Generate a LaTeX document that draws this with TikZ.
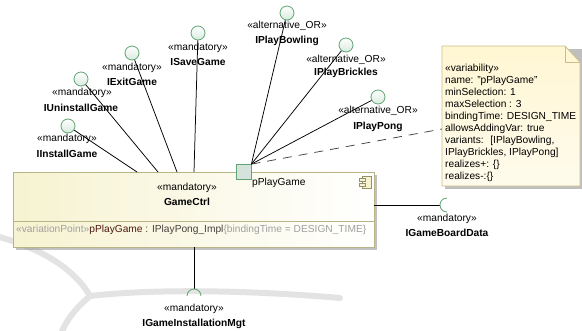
\documentclass[tikz,border=0pt]{standalone}
\usepackage{fontspec}
\setmainfont{Liberation Sans}
\usetikzlibrary{calc}
\usetikzlibrary{shadows}

\definecolor{boxyellow}{RGB}{246,243,208}
\definecolor{boxedge}{RGB}{184,180,136}
\definecolor{noteyellow}{RGB}{255,246,210}
\definecolor{noteedge}{RGB}{204,188,140}
\definecolor{ballgreen}{RGB}{96,164,116}
\definecolor{ballfill}{RGB}{216,234,222}
\definecolor{portfill}{RGB}{214,226,220}
\definecolor{attrgrey}{RGB}{160,160,160}
\definecolor{attrred}{RGB}{80,24,16}
\definecolor{attrdark}{RGB}{70,64,60}

\tikzset{
  ball/.style={circle,draw=ballgreen,line width=0.8pt,inner sep=0pt,minimum size=14pt,top color=white,bottom color=ballfill},
  stereo/.style={font=\fontsize{10.2}{12}\selectfont,inner sep=0pt},
  iname/.style={font=\fontsize{10.2}{12}\selectfont\bfseries,inner sep=0pt},
  wire/.style={line width=0.75pt},
  socket/.style={draw=ballgreen,line width=0.8pt},
  wm/.style={line width=6pt,draw=black!11,line cap=round},
}

\begin{document}
\begin{tikzpicture}[x=1pt,y=-1pt]%GameCtrl
\useasboundingbox (0,0) rectangle (582,330);
% watermark
\draw[wm] (-4,236) .. controls (40,248) and (74,268) .. (90,296);
\draw[wm] (90,296) .. controls (160,288) and (260,291) .. (340,298);
\draw[wm] (90,296) .. controls (76,308) and (66,320) .. (61,334);

% component
\node[draw=boxedge,line width=0.8pt,minimum width=361pt,minimum height=75pt,inner sep=0pt,
  left color=boxyellow,right color=white,
  drop shadow={shadow xshift=3pt,shadow yshift=-3pt,fill=black!40,opacity=0.6}] (ctrl) at (193.5,209.5) {};
\draw[boxedge,line width=0.8pt] (13,221) -- (374,221);
\node[stereo] (ctrlst) at (187,188) {«mandatory»};
\node[iname] (ctrlnm) at (187,202) {GameCtrl};
\node[stereo,anchor=west] (attr) at (16,230) {\textcolor{attrgrey}{«variationPoint»}\textcolor{attrred}{pPlayGame}\textcolor{attrdark}{\ : IPlayPong\_Impl}\textcolor{attrgrey}{\{bindingTime = DESIGN\_TIME\}}};
% component icon
\draw[boxedge!80!black,line width=0.7pt,fill=boxyellow] (362,176) rectangle (371,188);
\draw[boxedge!80!black,line width=0.7pt,fill=boxyellow] (359,178) rectangle (365,181);
\draw[boxedge!80!black,line width=0.7pt,fill=boxyellow] (359,183) rectangle (365,186);

% port
\node[draw=ballgreen,line width=0.8pt,fill=portfill,minimum size=15pt,inner sep=0pt] (port) at (243.5,172) {};
\node[stereo,anchor=west] (portlbl) at (252,183) {pPlayGame};

% provided interfaces
\node[ball] (iinst) at (68,126) {};
\node[stereo] (iinstst) at (67,139) {«mandatory»};
\node[iname] (iinstnm) at (67,154) {IInstallGame};
\node[ball] (iuninst) at (81,79) {};
\node[stereo] (iuninstst) at (82,93) {«mandatory»};
\node[iname] (iuninstnm) at (81,108) {IUninstallGame};
\node[ball] (iexit) at (132,53) {};
\node[stereo] (iexitst) at (132,68) {«mandatory»};
\node[iname] (iexitnm) at (132,82) {IExitGame};
\node[ball] (isave) at (198,33) {};
\node[stereo] (isavest) at (198,48) {«mandatory»};
\node[iname] (isavenm) at (198,62) {ISaveGame};
\node[ball] (ibowl) at (287,13) {};
\node[stereo] (ibowlst) at (287,26) {«alternative\_OR»};
\node[iname] (ibowlnm) at (287,41) {IPlayBowling};
\node[ball] (ibrick) at (346,45) {};
\node[stereo] (ibrickst) at (346,60) {«alternative\_OR»};
\node[iname] (ibricknm) at (346,73) {IPlayBrickles};
\node[ball] (ipong) at (378,97) {};
\node[stereo] (ipongst) at (378,111) {«alternative\_OR»};
\node[iname] (ipongnm) at (378,127) {IPlayPong};

\coordinate (cinst) at (137,172);
\coordinate (cuninst) at (158,172);
\coordinate (cexit) at (177,172);
\coordinate (csave) at (194,172);
\draw[wire] (iinst) -- (cinst);
\draw[wire] (iuninst) -- (cuninst);
\draw[wire] (iexit) -- (cexit);
\draw[wire] (isave) -- (csave);
\draw[wire] (ibowl) -- (port.north east);
\draw[wire] (ibrick) -- (port.north east);
\draw[wire] (ipong) -- (port.north east);

% required interfaces
\coordinate (cbot) at (194,247);
\coordinate (sockbot) at (194,289);
\draw[wire] (cbot) -- (sockbot);
\draw[socket] (187,296) .. controls (187,292.1) and (190.1,289) .. (194,289) .. controls (197.9,289) and (201,292.1) .. (201,296);
\node[stereo] (ibotst) at (194,309) {«mandatory»};
\node[iname] (ibotnm) at (194,324) {IGameInstallationMgt};
\coordinate (cright) at (374,205);
\coordinate (sockright) at (440,205);
\draw[wire] (cright) -- (sockright);
\draw[socket] (447,198) .. controls (443.1,198) and (440,201.1) .. (440,205) .. controls (440,208.9) and (443.1,212) .. (447,212);
\node[stereo] (irightst) at (447,219) {«mandatory»};
\node[iname] (irightnm) at (447,233) {IGameBoardData};

% note
\fill[black!25] (445,49) -- (583,49) -- (583,189) -- (445,189) -- cycle;
\draw[noteedge,line width=0.8pt,top color=noteyellow,bottom color=noteyellow!40] (442,46) -- (565,46) -- (580,62) -- (580,186) -- (442,186) -- cycle;
\draw[noteedge,line width=0.6pt] (565,46) -- (565,62) -- (580,62);
\node[stereo,anchor=north west,align=left] (note) at (445,64) {«variability»\\name: "pPlayGame"\\minSelection: 1\\maxSelection : 3\\bindingTime: DESIGN\_TIME\\allowsAddingVar: true\\variants:~ [IPlayBowling,\\IPlayBrickles, IPlayPong]\\realizes+: \{\}\\realizes-:\{\}};
\coordinate (noteedge) at (442,129);
\draw[wire,black!75,dash pattern=on 9pt off 7pt] (port.north east) -- (noteedge);
\end{tikzpicture}
\end{document}
